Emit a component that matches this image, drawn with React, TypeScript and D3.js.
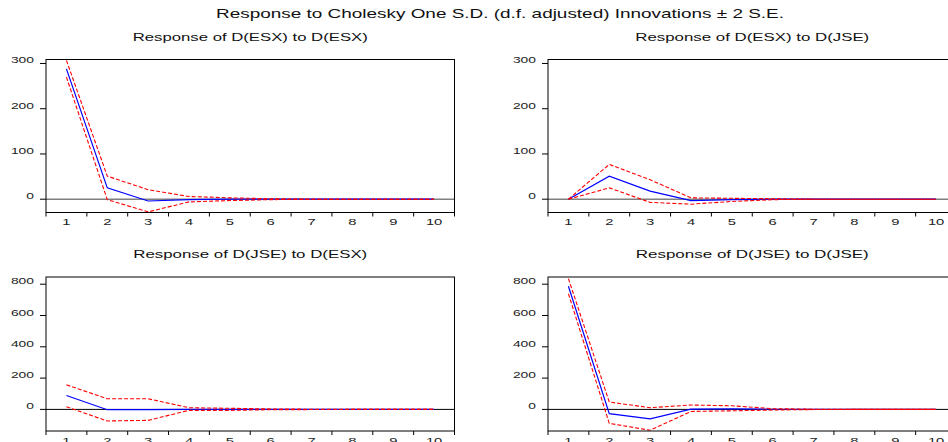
import React from "react";
import * as d3 from "d3";

const W = 948;
const H = 442;

const periods = [1, 2, 3, 4, 5, 6, 7, 8, 9, 10];

const mainTitle = "Response to Cholesky One S.D. (d.f. adjusted) Innovations \u00b1 2 S.E.";

const titles = [
  "Response of D(ESX) to D(ESX)",
  "Response of D(ESX) to D(JSE)",
  "Response of D(JSE) to D(ESX)",
  "Response of D(JSE) to D(JSE)",
];

// Response of D(ESX) to D(ESX)
const esxEsxResp = [288, 25, -4, -1, 0, 0, 0, 0, 0, 0];
const esxEsxUpper = [307, 51, 21, 6, 3, 1, 0, 0, 0, 0];
const esxEsxLower = [270, -1, -28, -6, -3, -1, 0, 0, 0, 0];

// Response of D(ESX) to D(JSE)
const esxJseResp = [0, 51, 18, -3, -1, 0, 0, 0, 0, 0];
const esxJseUpper = [0, 77, 43, 3, 2, 1, 0, 0, 0, 0];
const esxJseLower = [0, 25, -7, -11, -5, -1, 0, 0, 0, 0];

// Response of D(JSE) to D(ESX)
const jseEsxResp = [89, -2, -1, 0, 0, 0, 0, 0, 0, 0];
const jseEsxUpper = [157, 68, 68, 11, 7, 3, 1, 0, 0, 0];
const jseEsxLower = [17, -74, -70, -6, -6, -2, -1, 0, 0, 0];

// Response of D(JSE) to D(JSE)
const jseJseResp = [787, -27, -61, 2, 3, 1, 0, 0, 0, 0];
const jseJseUpper = [836, 47, 11, 28, 23, 5, 1, 0, 0, 0];
const jseJseLower = [739, -89, -133, -13, -9, -4, -1, 0, 0, 0];

const topTicks = [0, 100, 200, 300];
const bottomTicks = [0, 200, 400, 600, 800];

const topDomain: [number, number] = [-29.4, 308.8];
const bottomDomain: [number, number] = [-138, 846];

type PanelSpec = {
  title: string;
  resp: number[];
  upper: number[];
  lower: number[];
  ticks: number[];
  domain: [number, number];
  x0: number;
  x1: number;
  y0: number;
  y1: number;
  titleY: number;
  titleLen: number;
  zeroColor: string;
  zeroWidth: number;
};

const panels: PanelSpec[] = [
  {
    title: titles[0], resp: esxEsxResp, upper: esxEsxUpper, lower: esxEsxLower,
    ticks: topTicks, domain: topDomain, x0: 46, x1: 454.5, y0: 59.5, y1: 212.5,
    titleY: 40.5, titleLen: 235, zeroColor: "#808080", zeroWidth: 1.4,
  },
  {
    title: titles[1], resp: esxJseResp, upper: esxJseUpper, lower: esxJseLower,
    ticks: topTicks, domain: topDomain, x0: 548, x1: 956.5, y0: 59.5, y1: 212.5,
    titleY: 40.5, titleLen: 234, zeroColor: "#808080", zeroWidth: 1.4,
  },
  {
    title: titles[2], resp: jseEsxResp, upper: jseEsxUpper, lower: jseEsxLower,
    ticks: bottomTicks, domain: bottomDomain, x0: 46, x1: 454.5, y0: 277, y1: 431,
    titleY: 258, titleLen: 234, zeroColor: "#000", zeroWidth: 1,
  },
  {
    title: titles[3], resp: jseJseResp, upper: jseJseUpper, lower: jseJseLower,
    ticks: bottomTicks, domain: bottomDomain, x0: 548, x1: 956.5, y0: 277, y1: 431,
    titleY: 258, titleLen: 233, zeroColor: "#000", zeroWidth: 1,
  },
];

const FONT = "'Liberation Sans', Arial, Helvetica, sans-serif";

function Panel({ p, idx }: { p: PanelSpec; idx: number }) {
  const x = d3.scaleBand<number>().domain(periods).range([p.x0, p.x1]).padding(0);
  const y = d3.scaleLinear().domain(p.domain).range([p.y1, p.y0]);
  const cx = (d: number) => (x(d) as number) + x.bandwidth() / 2;
  const line = d3
    .line<number>()
    .x((_, i) => cx(periods[i]))
    .y((v) => y(v));
  const boundaries = d3.range(periods.length + 1).map((i) => p.x0 + i * x.bandwidth());
  const clipId = `clip-${idx}`;
  const midX = (p.x0 + p.x1) / 2;
  return (
    <g>
      <defs>
        <clipPath id={clipId}>
          <rect x={p.x0} y={p.y0} width={p.x1 - p.x0} height={p.y1 - p.y0} />
        </clipPath>
      </defs>
      <text
        x={midX}
        y={p.titleY}
        textAnchor="middle"
        fontFamily={FONT}
        fontSize={11}
        fill="#111"
        textLength={p.titleLen}
        lengthAdjust="spacingAndGlyphs"
      >
        {p.title}
      </text>
      {/* zero line */}
      <line
        x1={p.x0}
        x2={p.x1}
        y1={y(0)}
        y2={y(0)}
        stroke={p.zeroColor}
        strokeWidth={p.zeroWidth}
      />
      <g clipPath={`url(#${clipId})`}>
        <path d={line(p.resp) || ""} fill="none" stroke="#0000ff" strokeWidth={1.2} />
        <path d={line(p.upper) || ""} fill="none" stroke="#ff0000" strokeWidth={1.1} strokeDasharray="4,2" />
        <path d={line(p.lower) || ""} fill="none" stroke="#ff0000" strokeWidth={1.1} strokeDasharray="4,2" />
      </g>
      {/* frame */}
      <rect
        x={p.x0}
        y={p.y0}
        width={p.x1 - p.x0}
        height={p.y1 - p.y0}
        fill="none"
        stroke="#000"
        strokeWidth={1}
      />
      {/* y ticks */}
      {p.ticks.map((t) => (
        <g key={t}>
          <line x1={p.x0 - 6} x2={p.x0} y1={y(t)} y2={y(t)} stroke="#000" strokeWidth={1} />
          <text
            x={p.x0 - 12}
            y={y(t)}
            textAnchor="end"
            fontFamily={FONT}
            fontSize={8.5}
            fill="#222"
            textLength={String(t).length * 7.7}
            lengthAdjust="spacingAndGlyphs"
          >
            {t}
          </text>
        </g>
      ))}
      {/* x ticks */}
      {boundaries.map((b, i) => (
        <line key={i} x1={b} x2={b} y1={p.y1} y2={p.y1 + 4} stroke="#000" strokeWidth={1} />
      ))}
      {periods.map((d) => (
        <text
          key={d}
          x={cx(d)}
          y={p.y1 + 12.7}
          textAnchor="middle"
          fontFamily={FONT}
          fontSize={8.5}
          fill="#222"
          textLength={String(d).length * 8.2}
          lengthAdjust="spacingAndGlyphs"
        >
          {d}
        </text>
      ))}
    </g>
  );
}

export default function App() {
  return (
    <svg
      width={W}
      height={H}
      style={{ position: "absolute", left: 0, top: 0, display: "block", background: "#fff" }}
    >
      <rect x={0} y={0} width={W} height={H} fill="#fff" />
      <text
        x={500}
        y={18.3}
        textAnchor="middle"
        fontFamily={FONT}
        fontSize={13}
        fill="#111"
        textLength={568}
        lengthAdjust="spacingAndGlyphs"
      >
        {mainTitle}
      </text>
      {panels.map((p, i) => (
        <Panel key={i} p={p} idx={i} />
      ))}
    </svg>
  );
}
